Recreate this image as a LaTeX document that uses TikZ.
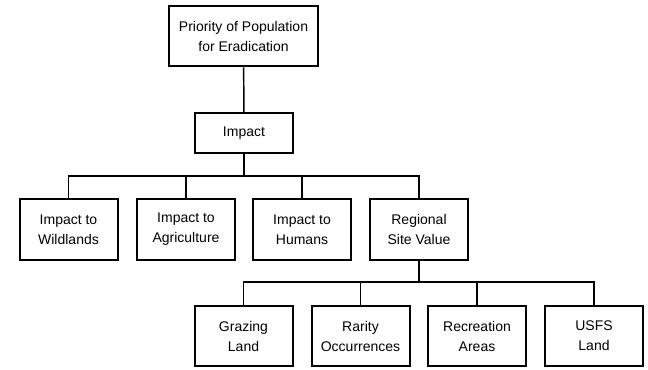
\documentclass[tikz,border=0pt]{standalone}
\usepackage{fontspec}
\setmainfont{Liberation Sans}
\usepackage{tikz}
\usetikzlibrary{calc}

\tikzset{
  box/.style={draw=black, line width=1.5pt, fill=white, align=center,
    inner sep=0pt, minimum width=73.5pt, minimum height=45.5pt,
    font=\fontsize{10.5}{15}\selectfont},
  link/.style={draw=black, line width=1.1pt}
}

\begin{document}
\begin{tikzpicture}[x=0.75pt,y=-0.75pt]

\useasboundingbox (0,0) rectangle (648,369);

% top of the tree
\node[box, minimum width=111.75pt] (prio) at (243.5,36) {Priority of Population\\for Eradication};
\node[box, minimum height=30pt] (impact) at (244,133) {Impact};

% second row
\node[box] (wild) at (68.5,229.5) {Impact to\\Wildlands};
\node[box] (agri) at (186,229.5) {Impact to\\Agriculture};
\node[box] (hum) at (302,229.5) {Impact to\\Humans};
\node[box] (site) at (419,229.5) {Regional\\Site Value};

% third row
\node[box] (graz) at (243.5,336) {Grazing\\Land};
\node[box] (rare) at (360.5,336) {Rarity\\Occurrences};
\node[box] (recr) at (477,336) {Recreation\\Areas};
\node[box] (usfs) at (594,336) {USFS\\Land};

\coordinate (busA) at (244,176);
\coordinate (busB) at (419,282);

\draw[link] (prio) -- (impact);
\draw[link] (impact) -- (busA);
\draw[link] (wild.north) -- (wild.north |- busA) -| (site.north);
\draw[link] (agri.north) -- (agri.north |- busA);
\draw[link] (hum.north) -- (hum.north |- busA);

\draw[link] (site) -- (busB);
\draw[link] (graz.north) -- (graz.north |- busB) -| (usfs.north);
\draw[link] (rare.north) -- (rare.north |- busB);
\draw[link] (recr.north) -- (recr.north |- busB);

\end{tikzpicture}
\end{document}
